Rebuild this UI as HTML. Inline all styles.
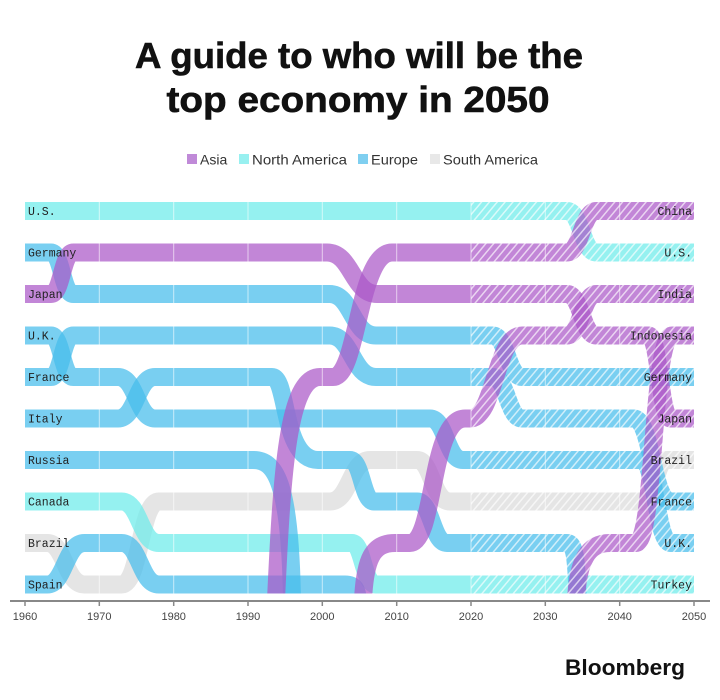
<!DOCTYPE html>
<html><head><meta charset="utf-8"><style>
html,body{margin:0;padding:0;background:#fff;}
svg{display:block;}
</style></head><body>
<svg width="720" height="700" viewBox="0 0 720 700" xmlns="http://www.w3.org/2000/svg">
<defs>
<clipPath id="plot"><rect x="0" y="195" width="720" height="398.5"/></clipPath>
<pattern id="hatch" width="6" height="6" patternUnits="userSpaceOnUse" patternTransform="rotate(40)">
<rect x="0" y="0" width="1.5" height="6" fill="#fff" fill-opacity="0.65"/>
</pattern>
</defs>
<text x="359" y="68" font-family="Liberation Sans, sans-serif" font-weight="bold" font-size="36" text-anchor="middle" textLength="448" lengthAdjust="spacingAndGlyphs" fill="#111" stroke="#111" stroke-width="0.6">A guide to who will be the</text>
<text x="358" y="112" font-family="Liberation Sans, sans-serif" font-weight="bold" font-size="36" text-anchor="middle" textLength="383" lengthAdjust="spacingAndGlyphs" fill="#111" stroke="#111" stroke-width="0.6">top economy in 2050</text>

<g font-family="Liberation Sans, sans-serif" font-size="14" fill="#333">
<rect x="187" y="154" width="10" height="10" fill="#c08ad8"/><text x="200" y="164.5">Asia</text>
<rect x="239" y="154" width="10" height="10" fill="#98f0f0"/><text x="252" y="164.5" textLength="95" lengthAdjust="spacingAndGlyphs">North America</text>
<rect x="358" y="154" width="10" height="10" fill="#7fcff0"/><text x="371" y="164.5" textLength="47" lengthAdjust="spacingAndGlyphs">Europe</text>
<rect x="430" y="154" width="10" height="10" fill="#e8e8e8"/><text x="443" y="164.5" textLength="95" lengthAdjust="spacingAndGlyphs">South America</text>
</g>

<g clip-path="url(#plot)" fill="none" stroke-width="18" stroke-linecap="butt" stroke-opacity="0.72">
<path stroke="#e0e0e0" stroke-opacity="0.85" d="M25 543 H47.3 C65 543 65 584.5 84.5 584.5 H121.6 C140 584.5 140 501.5 158.8 501.5 H330 C350 501.5 350 460 370 460 H417 C432 460 432 501.5 450 501.5 H643 C655 501.5 655 460 667 460 H694"/>
<path stroke="#6cecea" d="M25 211 H566.8 C581.6 211 581.6 252.5 596.5 252.5 H694"/>
<path stroke="#6cecea" d="M25 501.5 H121.6 C140 501.5 140 543 158.8 543 H352 C363 543 363 584.5 376 584.5 H694"/>
<path stroke="#45bcec" d="M25 252.5 H51 C62 252.5 62 294 73.3 294 H329.8 C352 294 352 335.5 376 335.5 H492.4 C507.3 335.5 507.3 377 522.2 377 H694"/>
<path stroke="#45bcec" d="M25 377 H51 C62 377 62 335.5 73.3 335.5 H329.8 C352 335.5 352 377 376 377 H492.4 C507.3 377 507.3 418.5 522.2 418.5 H633.7 C652 418.5 652 501.5 670.8 501.5 H694"/>
<path stroke="#45bcec" d="M25 335.5 H51 C62 335.5 62 377 73.3 377 H117.9 C136.5 377 136.5 418.5 155.1 418.5 H430 C446 418.5 446 460 463 460 H641.1 C656 460 656 543 670.8 543 H694"/>
<path stroke="#45bcec" d="M25 418.5 H117.9 C136.5 418.5 136.5 377 155.1 377 H272 C288 377 282 460 318 460 H350 C362 460 362 501.5 374 501.5 H417 C432 501.5 432 543 447 543 H567 C577 543 576 570 578 600"/>
<path stroke="#45bcec" d="M25 460 H253 C275 460 290 480 292 600"/>
<path stroke="#45bcec" d="M25 584.5 H47.3 C65 584.5 65 543 84.5 543 H121.6 C140 543 140 584.5 158.8 584.5 H345 C355 584.5 357 590 358 600"/>
<path stroke="#ab58c7" d="M25 294 H51 C62 294 62 252.5 73.3 252.5 H327 C352 252.5 352 294 377 294 H566.8 C581.6 294 581.6 335.5 596.5 335.5 H648.5 C659.6 335.5 659.6 418.5 670.8 418.5 H694"/>
<path stroke="#ab58c7" d="M276 600 C282 470 288 377 320 377 H333 C358 377 358 252.5 392 252.5 H566.8 C581.6 252.5 581.6 211 596.5 211 H694"/>
<path stroke="#ab58c7" d="M363 600 C365 560 372 543 395 543 H410 C435 543 430 418.5 465 418.5 H470 C495 418.5 495 335.5 522 335.5 H566.8 C581.6 335.5 581.6 294 596.5 294 H694"/>
<path stroke="#ab58c7" d="M576 600 C578 560 588 543 610 543 H636 C655 543 652 335.5 672 335.5 H694"/>
</g>
<g stroke="#fff" stroke-width="1" stroke-opacity="0.6">
<line x1="99.3" y1="198" x2="99.3" y2="594"/><line x1="173.7" y1="198" x2="173.7" y2="594"/>
<line x1="248" y1="198" x2="248" y2="594"/><line x1="322.3" y1="198" x2="322.3" y2="594"/>
<line x1="396.7" y1="198" x2="396.7" y2="594"/><line x1="471" y1="198" x2="471" y2="594"/>
<line x1="545.3" y1="198" x2="545.3" y2="594"/><line x1="619.7" y1="198" x2="619.7" y2="594"/>
</g>
<rect x="471" y="198" width="223" height="396" fill="url(#hatch)"/>

<g font-family="Liberation Mono, monospace" font-size="11.5" fill="#222">
<text x="28" y="215">U.S.</text><text x="28" y="256.5">Germany</text><text x="28" y="298">Japan</text>
<text x="28" y="339.5">U.K.</text><text x="28" y="381">France</text><text x="28" y="422.5">Italy</text>
<text x="28" y="464">Russia</text><text x="28" y="505.5">Canada</text><text x="28" y="547">Brazil</text>
<text x="28" y="588.5">Spain</text>
</g>
<g font-family="Liberation Mono, monospace" font-size="11.5" fill="#222" text-anchor="end">
<text x="692" y="215">China</text><text x="692" y="256.5">U.S.</text><text x="692" y="298">India</text>
<text x="692" y="339.5">Indonesia</text><text x="692" y="381">Germany</text><text x="692" y="422.5">Japan</text>
<text x="692" y="464">Brazil</text><text x="692" y="505.5">France</text><text x="692" y="547">U.K.</text>
<text x="692" y="588.5">Turkey</text>
</g>

<line x1="10" y1="601" x2="710" y2="601" stroke="#888" stroke-width="2"/>
<g stroke="#888" stroke-width="1.5">
<line x1="25" y1="601" x2="25" y2="606"/><line x1="99.3" y1="601" x2="99.3" y2="606"/><line x1="173.7" y1="601" x2="173.7" y2="606"/>
<line x1="248" y1="601" x2="248" y2="606"/><line x1="322.3" y1="601" x2="322.3" y2="606"/><line x1="396.7" y1="601" x2="396.7" y2="606"/>
<line x1="471" y1="601" x2="471" y2="606"/><line x1="545.3" y1="601" x2="545.3" y2="606"/><line x1="619.7" y1="601" x2="619.7" y2="606"/>
<line x1="694" y1="601" x2="694" y2="606"/>
</g>
<g font-family="Liberation Sans, sans-serif" font-size="11" fill="#444" text-anchor="middle">
<text x="25" y="620">1960</text><text x="99.3" y="620">1970</text><text x="173.7" y="620">1980</text>
<text x="248" y="620">1990</text><text x="322.3" y="620">2000</text><text x="396.7" y="620">2010</text>
<text x="471" y="620">2020</text><text x="545.3" y="620">2030</text><text x="619.7" y="620">2040</text>
<text x="694" y="620">2050</text>
</g>
<text x="565" y="675" font-family="Liberation Sans, sans-serif" font-weight="bold" font-size="22" textLength="120" lengthAdjust="spacingAndGlyphs" fill="#111">Bloomberg</text>
</svg>
</body></html>
